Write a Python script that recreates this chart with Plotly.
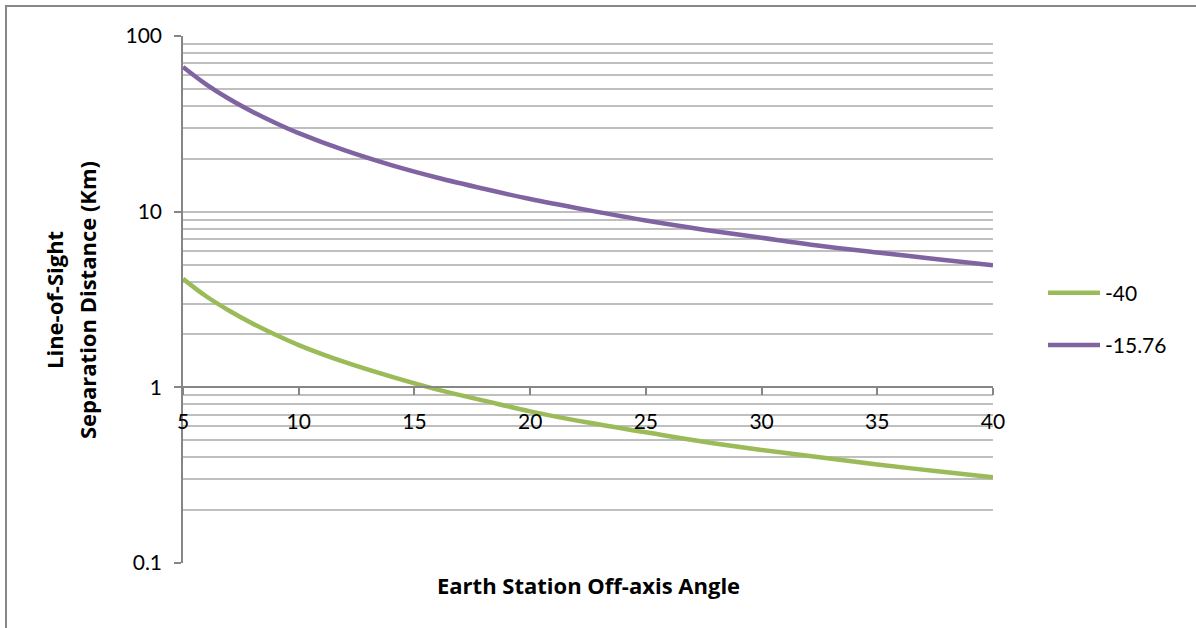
import plotly.graph_objects as go

# Data
angles = [5, 6, 7, 8, 9, 10, 12, 14, 16, 18, 20, 22.5, 25, 27.5, 30, 32.5, 35, 37.5, 40]
dist_m40 = [4.15, 3.30, 2.73, 2.31, 1.99, 1.74, 1.39, 1.15, 0.97, 0.84, 0.73, 0.63,
            0.555, 0.49, 0.44, 0.40, 0.364, 0.334, 0.308]
dist_m1576 = [66.7, 53.1, 43.8, 37.1, 32.0, 28.0, 22.3, 18.4, 15.6, 13.5, 11.8, 10.2,
              8.9, 7.9, 7.1, 6.4, 5.86, 5.38, 4.96]
series_names = ["-40", "-15.76"]
x_ticks = [5, 10, 15, 20, 25, 30, 35, 40]
y_ticks = [0.1, 1, 10, 100]
y_tick_labels = ["0.1", "1", "10", "100"]
y_minor = [m * 10 ** k for k in (-1, 0, 1) for m in range(2, 10)]

FONT = "Lato, 'Open Sans', sans-serif"
TFONT = "'Open Sans', sans-serif"
AX = "#868686"
GRID = "#BFBFBF"

# plot area in pixels
L, R, T, B = 183, 993, 36, 563
W, H = 1196, 628


def px_x(p):
    return (p - L) / (R - L)


def px_y(p):
    return (B - p) / (B - T)


fig = go.Figure()
fig.add_trace(go.Scatter(x=angles, y=dist_m40, mode="lines", name=series_names[0],
                         line=dict(color="#9BBB59", width=4.5, shape="spline"),
                         legendgroup="a"))
fig.add_trace(go.Scatter(x=angles, y=dist_m1576, mode="lines", name=series_names[1],
                         line=dict(color="#8064A2", width=4.5, shape="spline"),
                         legendgroup="b"))

fig.update_layout(
    width=W, height=H,
    margin=dict(l=L, r=W - R, t=T, b=H - B),
    paper_bgcolor="white", plot_bgcolor="white",
    font=dict(family=FONT, size=21, color="black"),
    showlegend=True,
    legend=dict(x=px_x(1043), xanchor="left", y=px_y(319), yanchor="middle",
                font=dict(size=21), tracegroupgap=22, itemwidth=52,
                bgcolor="rgba(0,0,0,0)"),
    xaxis=dict(range=[5, 40], anchor="free", position=1/3, showline=True,
               linecolor=AX, linewidth=1.5, ticks="outside", ticklen=7,
               tickcolor=AX, tickwidth=1.5, tickvals=x_ticks, showgrid=False,
               zeroline=False, ticklabelstandoff=9),
    yaxis=dict(type="log", range=[-1, 2], domain=[0, 1], showline=True,
               linecolor=AX, linewidth=1.5, ticks="outside", ticklen=7,
               tickcolor=AX, tickwidth=1.5, tickvals=y_ticks,
               ticktext=y_tick_labels, showgrid=True, gridcolor=GRID,
               gridwidth=1.5, zeroline=False, ticklabelstandoff=8,
               minor=dict(tickvals=y_minor, showgrid=True, gridcolor=GRID,
                          gridwidth=1.5, ticks="")),
)

# Axis titles
fig.add_annotation(text="<b>Earth Station Off-axis Angle</b>", xref="paper", yref="paper",
                   x=px_x(588), y=px_y(585), xanchor="center", yanchor="middle",
                   showarrow=False, font=dict(family=TFONT, size=22))
fig.add_annotation(text="<b>Line-of-Sight</b>",
                   xref="paper", yref="paper", x=px_x(54), y=px_y(300),
                   xanchor="center", yanchor="middle", textangle=-90,
                   showarrow=False, font=dict(family=TFONT, size=22))
fig.add_annotation(text="<b>Separation Distance (Km)</b>",
                   xref="paper", yref="paper", x=px_x(87), y=px_y(300),
                   xanchor="center", yanchor="middle", textangle=-90,
                   showarrow=False, font=dict(family=TFONT, size=22))

# Chart area border
fig.add_shape(type="rect", xref="paper", yref="paper",
              x0=px_x(6), x1=px_x(1204), y0=px_y(636), y1=px_y(6),
              line=dict(color="#888888", width=2), layer="below")

fig.write_html("out.html", config={"displayModeBar": False},
               post_script="document.body.style.margin='0';")
